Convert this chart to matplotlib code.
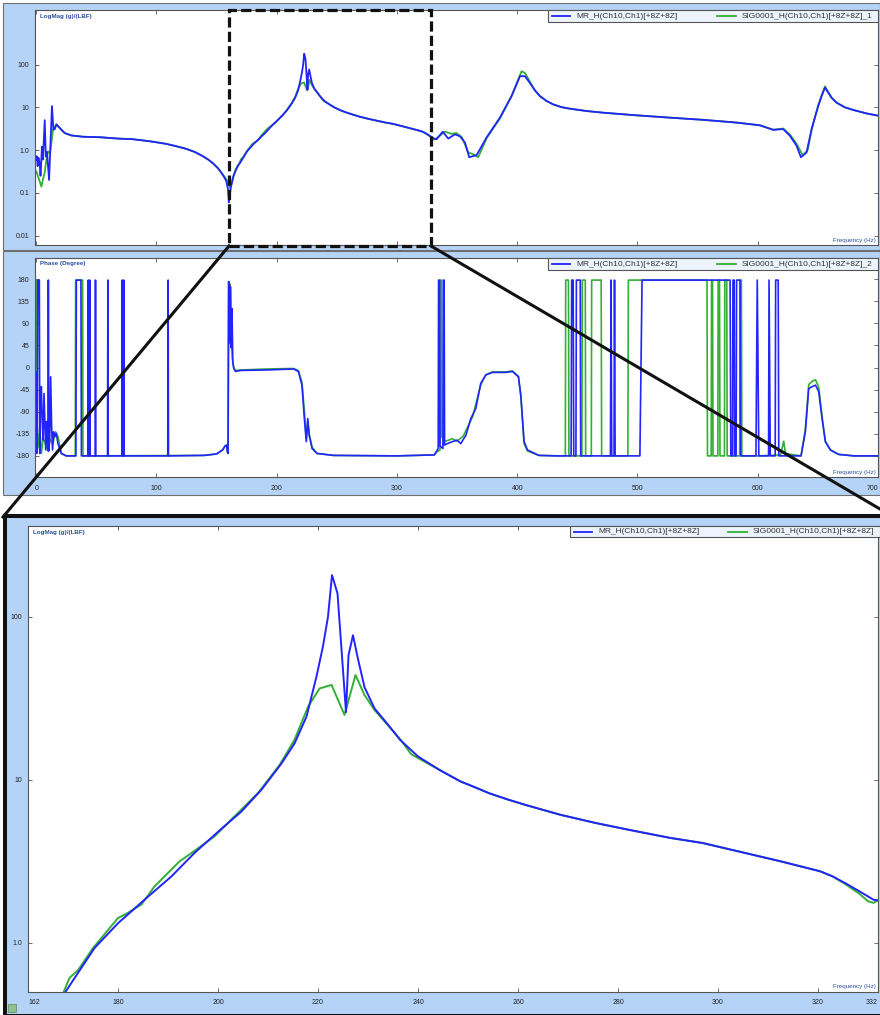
import numpy as np
import matplotlib
matplotlib.use('Agg')
import matplotlib.pyplot as plt
from matplotlib.patches import Rectangle
from matplotlib.lines import Line2D
from matplotlib.ticker import NullLocator

plt.rcParams['font.family'] = ['Liberation Sans', 'DejaVu Sans']

# ---- values ----
# LogMag, MR_H (blue)
mag_mr_hz = [0, 0.5, 1.2, 2.1, 3.0, 3.6, 4.8, 5.6, 7.1, 8.0, 9.0, 10.7, 11.8, 13.1, 14.3, 15.5,
             16.8, 19.5, 23.7, 29.2, 39, 52.7, 69, 80, 95, 108, 117, 124.7, 132, 138.5, 143,
             147, 151, 153.8, 156, 158, 159.5, 160.2, 161,
             162, 164, 166, 168, 169.3, 172, 175.3, 180, 185.3, 190.7, 195.3, 200.1, 204.7,
             208.7, 212.7, 215.3, 217.7, 219.7, 221, 222, 222.8, 223.9, 225.6, 226.1, 227, 228,
             229.3, 231.3, 234, 236.4, 240, 244.3, 248.5, 251.4, 254.2, 257.8, 261.4, 264.9,
             268.5, 275.6, 282.7, 290.5, 296.9, 304.1, 312.6, 315.9, 320.4, 322.9, 325.4, 328.3,
             331.1,
             333, 338, 342.7, 348.2, 352.4, 356.5, 360.1, 366.2, 369, 374.5, 385.6, 395.3,
             402.3, 406.4, 410.6, 414.7, 418.9, 424.4, 430, 436.9, 443.8, 457.7, 471.5, 499.3,
             527, 554.7, 582.4, 601.8, 612.9, 621.2, 626.8, 632.3, 635.9, 640.6, 644.8, 647.5,
             650.3, 653.1, 655.9, 661.4, 665.5, 672.5, 679.4, 690.5, 700]
mag_mr = [0.60, 0.72, 0.42, 0.66, 0.45, 0.25, 1.2, 0.6, 5.0, 0.7, 0.9, 0.20, 1.2, 10.7, 3.0, 3.1,
          4.0, 3.3, 2.5, 2.2, 2.05, 2.0, 1.85, 1.8, 1.6, 1.4, 1.22, 1.07, 0.9, 0.72, 0.6,
          0.49, 0.38, 0.30, 0.24, 0.19, 0.12, 0.06, 0.09,
          0.14, 0.24, 0.34, 0.44, 0.49, 0.655, 0.93, 1.32, 1.84, 2.56, 3.56, 4.83, 6.4,
          8.7, 12.6, 16.7, 24.4, 43, 66, 100, 180, 139, 26, 58, 77, 55,
          37, 27.4, 21.8, 17.6, 13.9, 11.5, 9.77, 9.0, 8.28, 7.6, 7.03, 6.55,
          6.1, 5.43, 4.9, 4.40, 4.1, 3.64, 3.16, 2.98, 2.75, 2.56, 2.33, 2.07,
          1.84,
          1.80, 2.69, 1.86, 2.34, 2.09, 1.51, 0.68, 0.76, 1.05, 1.97, 5.74, 18.3,
          53.6, 53.6, 37, 25, 18.3, 14.1, 11.7, 10.1, 9.3, 8.2, 7.5, 6.5,
          5.74, 5.1, 4.4, 3.8, 2.97, 3.1, 2.15, 1.26, 0.68, 0.88, 3.1, 5.74,
          10.7, 18.3, 29, 16.7, 12.9, 10, 8.7, 7.2, 6.4]

# LogMag, SIG0001_H (green)
mag_sig_hz = [0, 2, 4.3, 5.5, 7, 8.5, 9.8, 11.5, 14, 16.8, 19.5, 23.7, 29.2, 39, 52.7, 69, 80,
              95, 108, 117, 124.7, 132, 138.5, 143, 147, 151, 153.8, 156, 158, 159.5, 160.3, 161,
              162, 164, 166, 168, 169, 170.3, 172, 175, 180, 182, 184.7, 187.3, 192.3, 194.7,
              199.3, 203.3, 208, 212.3, 215.3, 218, 220.3, 222.7, 225.3, 227.5, 229.3, 231.3,
              236.6, 238.6, 240, 244.3, 248.5, 251.4, 254.2, 257.8, 261.4, 264.9, 268.5, 275.6,
              282.7, 290.5, 296.9, 304.1, 312.6, 315.9, 320.4, 322.9, 325.4, 328.3, 330.0, 331.1,
              333, 336, 339.9, 345.4, 349.6, 354, 359.3, 363.4, 367.6, 371.8, 374.5, 385.6,
              395.3, 403.6, 406.4, 410.6, 414.7, 418.9, 424.4, 430, 436.9, 443.8, 457.7, 471.5,
              499.3, 527, 554.7, 582.4, 601.8, 612.9, 621.2, 626.8, 632.3, 637.5, 641.5, 644.8,
              647.5, 650.3, 653.1, 655.9, 661.4, 665.5, 672.5, 679.4, 690.5, 700]
mag_sig = [0.32, 0.22, 0.14, 0.2, 0.29, 0.6, 0.93, 0.85, 3.0, 4.0, 3.3, 2.5, 2.2, 2.05, 2.0, 1.85, 1.8,
           1.6, 1.4, 1.22, 1.07, 0.9, 0.72, 0.6, 0.49, 0.38, 0.30, 0.25, 0.21, 0.17, 0.15, 0.13,
           0.15, 0.25, 0.36, 0.45, 0.49, 0.61, 0.68, 0.93, 1.42, 1.53, 1.72, 2.22, 3.16, 3.56,
           4.5, 5.97, 8.3, 12.3, 17.6, 28, 36.3, 38.2, 25, 43.9, 33.1, 26.8,
           17.5, 14.4, 13.6, 11.5, 9.77, 9.0, 8.28, 7.6, 7.03, 6.55, 6.1, 5.43,
           4.9, 4.40, 4.1, 3.64, 3.16, 2.98, 2.75, 2.56, 2.30, 2.0, 1.8, 1.76,
           1.9, 2.2, 2.69, 2.4, 2.5, 2.0, 0.88, 0.8, 0.68, 1.26, 1.9, 5.5,
           18.5, 70, 64, 40, 25, 18.3, 14.1, 11.7, 10.1, 9.3, 8.2, 7.5,
           6.5, 5.74, 5.1, 4.4, 3.8, 3.0, 3.2, 2.3, 1.4, 0.75, 1.0, 3.0,
           5.9, 11.2, 19, 31, 17, 12.9, 10, 8.7, 7.2, 6.4]

# Phase, MR_H (blue)
ph_mr_hz = [0, 0.4, 0.9, 1.3, 2.6, 3.0, 3.6, 4.3, 5.0, 5.7, 6.5, 7.3, 7.9, 8.6, 9.4, 9.9, 10.1, 10.4,
            11.2, 12.0, 12.8, 13.6, 14.4, 15.5, 16.7, 18.1, 20.9, 25,
            33.0, 33.4, 37.2, 37.6, 43.0, 43.3, 43.6, 44.3, 44.6, 44.9, 49.0, 49.3, 49.6,
            59.3, 59.6, 59.9, 71.2, 71.5, 71.8, 72.5, 72.8, 73.1, 109.4, 109.7, 110.0,
            140, 150, 155, 157, 158.3, 159, 159.5, 160, 160.5, 161, 161.5, 162.2, 162.8, 163.5,
            164.3, 165.7, 170, 192, 214, 218, 221, 223, 224.6, 225.8, 227, 229.4, 233.5, 247,
            300, 331, 333, 334.3, 334.6, 335.4, 335.8, 338.2, 338.5, 339.2, 339.6, 342, 346,
            350, 353, 357.3, 361.4, 365.6, 369.7, 373.9, 379.4, 390.5, 396, 401, 403, 405.7,
            408.5, 418, 432,
            444.8, 445.3, 446.5, 447.0, 448.8, 449.2, 452.4, 452.8,
            477.5, 478.0, 478.6, 480.5, 480.9, 481.4,
            502.0, 503.8, 577.0, 577.6, 579.0, 579.4, 580.4, 580.8, 582.0, 582.4, 585.3, 585.8,
            598.5, 599.6, 600.9, 609.0, 609.4, 610.4, 614.5, 614.9, 617.0, 617.5,
            636, 639.6, 642.4, 645.2, 648, 650.7, 653.5, 656.2, 660.4, 667.3, 680, 700]
ph_mr = [-10, -175, -120, 178, 178, -175, -60, -39, -110, -148, -53, -120, -168, -110, -150, -170, 178, -170,
         -150, -19, -120, -168, -131, -141, -134, -155, -175, -180,
         -180, 178, 178, -180, -180, 178, -180, -180, 178, -180, -180, 178, -180,
         -180, 178, -180, -180, 178, -180, -180, 178, -180, -180, 178, -180,
         -179, -176, -168, -160, -158, -172, -175, 175, 170, 50, 165, 40, 120, 10,
         -2, -8, -6, -5, -3, -8, -36, -104, -151, -104, -138, -165, -175, -179,
         -180, -178, -170, -165, 178, 178, -160, -165, 178, 178, -158, -155, -151,
         -148, -155, -138, -104, -83, -32, -15, -10, -10, -8, -19, -56, -151,
         -168, -179, -180,
         -180, 178, 178, -180, -180, 178, 178, -180,
         -180, 178, -180, -180, 178, -180,
         -180, 178, 178, -180, -180, 178, 178, -180, -180, 178, 178, -180,
         -180, 178, -180, -180, 178, -180, -180, 178, 178, -180,
         -180, -131, -43, -39, -36, -49, -104, -151, -168, -177, -180, -180]

# Phase, SIG0001_H (green)
ph_sig_hz = [0, 0.3, 1.5, 2.9, 4.3, 5.5, 7.1, 8.4, 10.1, 12.0, 13.9, 16.1, 18.1, 20.9, 25,
             32.5, 32.8, 38.6, 38.9,
             140, 150, 155, 157, 158.3, 159, 159.6, 160.1, 160.7, 161.2, 162, 163, 164.3, 165.7,
             170, 192, 214, 218, 221, 223, 224.6, 225.8, 227, 229.4, 233.5, 247, 300, 331, 333,
             335.8, 336.2, 336.8, 337.2, 340, 343, 346, 350, 355, 359, 363, 366, 369.7, 373.9,
             379.4, 390.5, 396, 401, 403, 405.7, 408.5, 418, 438,
             440.0, 440.3, 442.6, 443.0, 453.8, 454.1, 456.6, 456.9, 461.6, 461.9, 469.8, 470.2,
             492.0, 492.4, 557.8, 558.2, 561.3, 561.6, 562.4, 562.8, 566.8, 567.1, 568.2, 568.6,
             572.3, 572.6, 574.2, 574.6, 585, 585.4, 586.4, 586.8,
             600, 619, 621.6, 623, 636, 639.6, 642.4, 645.2, 648, 650.7, 653.5, 656.2, 660.4,
             667.3, 680, 700]
ph_sig = [178, -170, -162, -121, -175, -150, -148, -165, -140, -150, -155, -131, -141, -175, -180,
          -180, 178, 178, -180,
          -179, -176, -168, -160, -158, -172, -175, 175, 60, 170, 100, 20, 0, -6,
          -5, -3, -2, -6, -30, -90, -145, -110, -135, -162, -175, -179, -180, -178, -172,
          -168, 178, 178, -141, -150, -148, -145, -150, -140, -120, -100, -70, -35, -15,
          -9, -9, -7, -18, -60, -155, -170, -179, -180,
          -180, 178, 178, -180, -180, 178, 178, -180, -180, 178, 178, -180,
          -180, 178, 178, -180, -180, 178, 178, -180, -180, 178, 178, -180,
          -180, 178, 178, -180, -180, 178, 178, -180,
          -180, -178, -150, -175, -180, -125, -35, -28, -25, -40, -100, -150, -168,
          -177, -180, -180]

mag_ticks = [0.01, 0.1, 1, 10, 100]
mag_ticklabels = ['0.01', '0.1', '1.0', '10', '100']
phase_ticks = [-180, -135, -90, -45, 0, 45, 90, 135, 180]
freq_ticks = [0, 100, 200, 300, 400, 500, 600, 700]
zoom_ticks = [162, 180, 200, 220, 240, 260, 280, 300, 320, 332]
zoom_mag_ticks = [1, 10, 100]
zoom_mag_ticklabels = ['1.0', '10', '100']

label_mr = 'MR_H(Ch10,Ch1)[+8Z+8Z]'
label_sig = 'SIG0001_H(Ch10,Ch1)[+8Z+8Z]'

# ---- styling ----
W, H = 880, 1015
BLUE = '#2323ff'
GREEN = '#33b033'
PANEL = '#b5d3f7'
EDGE = '#6e6e6e'
TXT = '#2b4f9e'


def px_box(x0, y0, x1, y1):
    return [x0 / W, 1 - y1 / H, (x1 - x0) / W, (y1 - y0) / H]


def style(ax):
    for s in ax.spines.values():
        s.set_color('#555555')
        s.set_linewidth(0.8)
    ax.tick_params(direction='in', length=3, width=0.6, color='#555555', top=True, right=True,
                   labelsize=5, labelcolor='#222222', pad=4)
    ax.yaxis.set_minor_locator(NullLocator())
    ax.xaxis.set_minor_locator(NullLocator())


def add_legend(x0, y0, x1, y1, sig_text, green_at):
    # green_at: offset (px) of the green sample from the box's left edge
    fig.add_artist(Rectangle((x0 / W, 1 - y1 / H), (x1 - x0) / W, (y1 - y0) / H,
                             transform=fig.transFigure, fc='#eef4fd', ec='#555555', lw=0.8, zorder=6))
    ym = 1 - (y0 + y1) / 2 / H
    fig.add_artist(Line2D([(x0 + 4) / W, (x0 + 22) / W], [ym, ym], transform=fig.transFigure,
                          color=BLUE, lw=1.3, zorder=7))
    fig.text((x0 + 28) / W, ym, label_mr, fontsize=6, color='#333333', va='center', zorder=7)
    fig.add_artist(Line2D([(x0 + green_at) / W, (x0 + green_at + 19) / W], [ym, ym],
                          transform=fig.transFigure, color=GREEN, lw=1.3, zorder=7))
    fig.text((x0 + green_at + 25) / W, ym, sig_text, fontsize=6, color='#333333', va='center',
             zorder=7)


fig = plt.figure(figsize=(W / 100, H / 100), dpi=100)

# panel backgrounds
fig.add_artist(Rectangle((3 / W, 1 - 250 / H), 877 / W, 247 / H, transform=fig.transFigure,
                         fc=PANEL, ec=EDGE, lw=0.8, zorder=-5))
fig.add_artist(Rectangle((3 / W, 1 - 495 / H), 877 / W, 244 / H, transform=fig.transFigure,
                         fc=PANEL, ec=EDGE, lw=0.8, zorder=-5))
fig.add_artist(Rectangle((5 / W, 1 - 1016 / H), 880 / W, 500 / H, transform=fig.transFigure,
                         fc=PANEL, ec='#111111', lw=2.9, zorder=-5))

# top: LogMag overview
ax1 = fig.add_axes(px_box(35, 10, 878, 245))
ax1.plot(mag_sig_hz, mag_sig, color=GREEN, lw=1.3)
ax1.plot(mag_mr_hz, mag_mr, color=BLUE, lw=1.3)
ax1.set_yscale('log')
ax1.set_xlim(-1, 700)
ax1.set_ylim(0.006, 1900)
style(ax1)
ax1.set_yticks(mag_ticks)
ax1.set_yticklabels(mag_ticklabels)
ax1.set_xticks(freq_ticks)
ax1.tick_params(labelbottom=False)
ax1.text(0.006, 0.985, 'LogMag (g)/(LBF)', transform=ax1.transAxes, fontsize=4.5, color=TXT,
         fontweight='bold', va='top')
ax1.text(0.998, 0.008, 'Frequency (Hz)', transform=ax1.transAxes, fontsize=4.5, color=TXT,
         ha='right', va='bottom')

# middle: Phase
ax2 = fig.add_axes(px_box(35, 258, 878, 477))
ax2.plot(ph_sig_hz, ph_sig, color=GREEN, lw=1.2)
ax2.plot(ph_mr_hz, ph_mr, color=BLUE, lw=1.2)
ax2.set_xlim(-1, 700)
ax2.set_ylim(-223, 223)
style(ax2)
ax2.set_yticks(phase_ticks)
ax2.set_yticklabels([str(v) for v in phase_ticks])
ax2.set_xticks(freq_ticks)
ax2.set_xticklabels([str(v) for v in freq_ticks])
ax2.tick_params(axis='x', pad=6)
ax2.get_xticklabels()[-1].set_ha('right')
ax2.text(0.006, 0.985, 'Phase (Degree)', transform=ax2.transAxes, fontsize=4.5, color=TXT,
         fontweight='bold', va='top')
ax2.text(0.998, 0.008, 'Frequency (Hz)', transform=ax2.transAxes, fontsize=4.5, color=TXT,
         ha='right', va='bottom')

# bottom: zoomed LogMag
ax3 = fig.add_axes(px_box(28, 526, 878, 992))
ax3.plot(mag_sig_hz, mag_sig, color=GREEN, lw=1.4)
ax3.plot(mag_mr_hz, mag_mr, color=BLUE, lw=1.4)
ax3.set_yscale('log')
ax3.set_xlim(zoom_ticks[0], zoom_ticks[-1])
ax3.set_ylim(0.5, 360)
style(ax3)
ax3.set_yticks(zoom_mag_ticks)
ax3.set_yticklabels(zoom_mag_ticklabels)
ax3.set_xticks(zoom_ticks)
ax3.set_xticklabels([str(v) for v in zoom_ticks])
ax3.tick_params(axis='x', pad=5)
ax3.get_xticklabels()[0].set_ha('left')
ax3.get_xticklabels()[-1].set_ha('right')
ax3.text(0.006, 0.992, 'LogMag (g)/(LBF)', transform=ax3.transAxes, fontsize=4.5, color=TXT,
         fontweight='bold', va='top')
ax3.text(0.998, 0.006, 'Frequency (Hz)', transform=ax3.transAxes, fontsize=4.5, color=TXT,
         ha='right', va='bottom')

# legends
add_legend(548, 10, 878, 22, label_sig + '_1', 169)
add_legend(548, 258, 878, 270, label_sig + '_2', 169)
add_legend(570, 526, 880, 537, label_sig, 158)

# zoom marker and connectors
fig.add_artist(Rectangle((229 / W, 1 - 246 / H), 202 / W, 236 / H, transform=fig.transFigure,
                         fill=False, ec='#111111', lw=2.3, ls=(0, (3.2, 1.3)), zorder=8))
fig.add_artist(Line2D([229 / W, 3 / W], [1 - 246 / H, 1 - 517 / H], transform=fig.transFigure,
                      color='#111111', lw=2.2, zorder=8))
fig.add_artist(Line2D([431 / W, 880 / W], [1 - 246 / H, 1 - 509 / H], transform=fig.transFigure,
                      color='#111111', lw=2.2, zorder=8))

# little status icon, bottom-left
fig.add_artist(Rectangle((8 / W, 1 - 1012 / H), 8 / W, 8 / H, transform=fig.transFigure,
                         fc='#8fc08f', ec='#5a8a5a', lw=0.5, zorder=6))

fig.savefig('out.png', dpi=100)
